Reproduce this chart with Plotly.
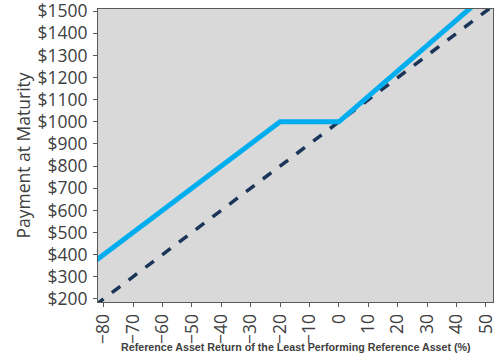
import plotly.graph_objects as go

returns = [-100, -80, -60, -40, -20, 0, 20, 40, 60]
note_payment = [200, 400, 600, 800, 1000, 1000, 1230, 1460, 1690]
asset_payment = [0, 200, 400, 600, 800, 1000, 1200, 1400, 1600]
x_ticks = [-80, -70, -60, -50, -40, -30, -20, -10, 0, 10, 20, 30, 40, 50]
y_ticks = [200, 300, 400, 500, 600, 700, 800, 900, 1000, 1100, 1200, 1300, 1400, 1500]
x_title = "Reference Asset Return of the Least Performing Reference Asset (%)"
y_title = "Payment at Maturity"

fig = go.Figure()
fig.add_trace(go.Scatter(x=returns, y=asset_payment, mode="lines",
                         line=dict(color="#1B3558", width=3.5, dash="dash"),
                         showlegend=False, hoverinfo="skip"))
fig.add_trace(go.Scatter(x=returns, y=note_payment, mode="lines",
                         line=dict(color="#00AEEF", width=5),
                         showlegend=False, hoverinfo="skip"))

font_fam = "Open Sans"
fig.update_layout(
    width=500, height=360,
    margin=dict(l=98, r=7, t=9, b=58),
    paper_bgcolor="white", plot_bgcolor="#D9D9D9",
    font=dict(family=font_fam, color="#404040", size=17.5),
    xaxis=dict(range=[-81.9, 52.4], tickvals=x_ticks, tickangle=-90, automargin=False,
               ticklabeloverflow="allow",
               showgrid=False, zeroline=False, showline=True, linecolor="#5a5a5a",
               linewidth=1, mirror=True, ticks="outside", ticklen=4, tickcolor="#5a5a5a",
               tickfont=dict(size=17.5, family=font_fam, color="#404040")),
    yaxis=dict(range=[186, 1510], tickvals=y_ticks, ticktext=["$" + str(v) for v in y_ticks],
               automargin=False, ticklabeloverflow="allow", ticklabelstandoff=2,
               showgrid=False, zeroline=False, showline=True, linecolor="#5a5a5a",
               linewidth=1, mirror=True, ticks="outside", ticklen=4, tickcolor="#5a5a5a",
               tickfont=dict(size=17.5, family=font_fam, color="#404040")),
    annotations=[
        dict(text="<b>" + x_title + "</b>", xref="paper", yref="paper", x=0.5, y=-0.152,
             xanchor="center", yanchor="middle", showarrow=False,
             font=dict(size=10.7, family="Liberation Sans", color="#404040")),
        dict(text=y_title, xref="paper", yref="paper", x=-0.19, y=0.5, textangle=-90,
             xanchor="center", yanchor="middle", showarrow=False,
             font=dict(size=17.5, family=font_fam, color="#404040")),
    ],
)
fig.write_html("out.html", config={"displayModeBar": False},
               post_script="document.body.style.margin='0';document.body.style.overflow='hidden';")
